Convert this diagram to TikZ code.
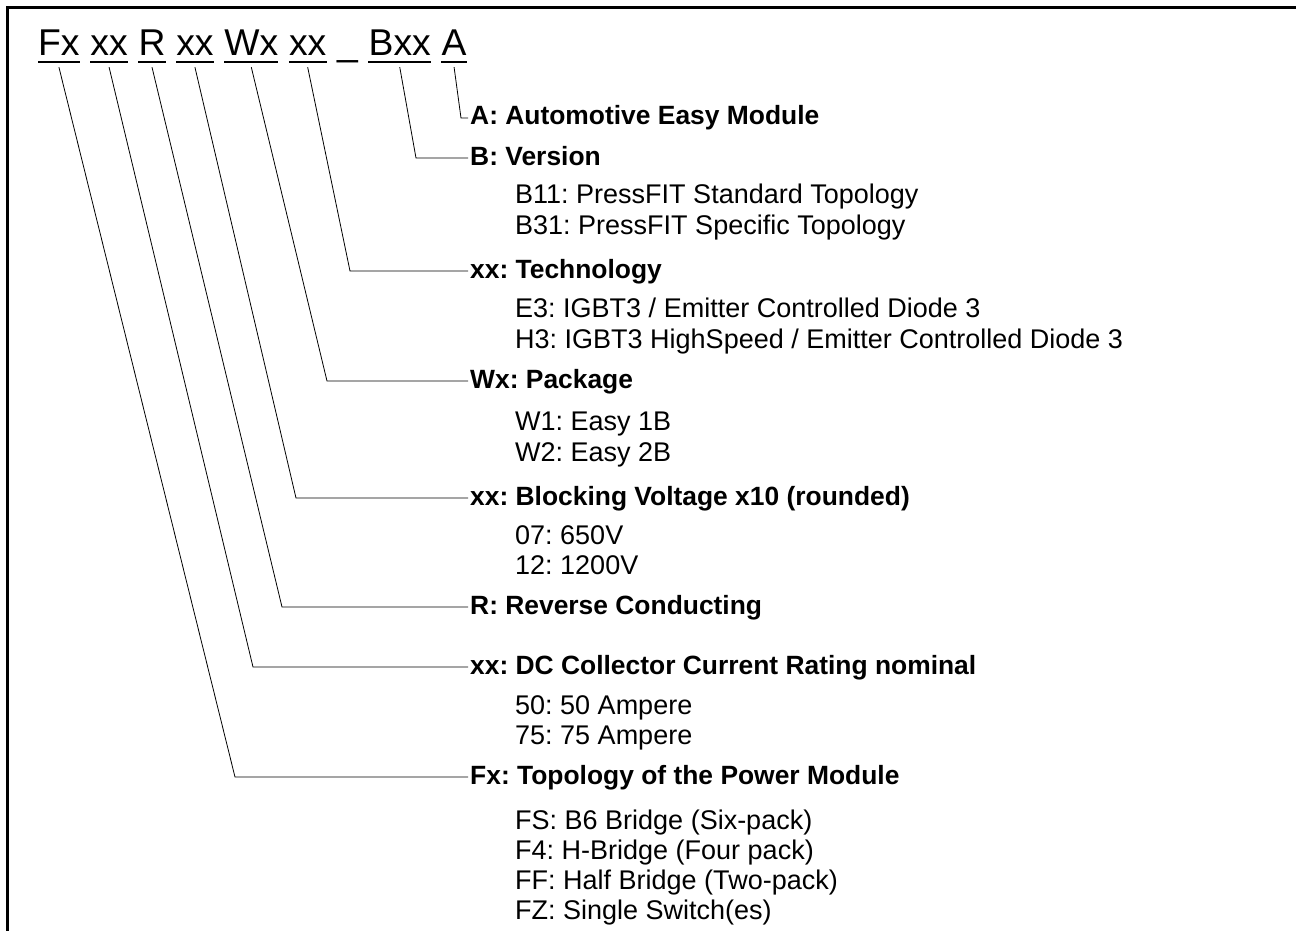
\documentclass[tikz,border=0pt]{standalone}
\usepackage{fontspec}
\setmainfont{Liberation Sans}
\usetikzlibrary{positioning, calc}
\frenchspacing

\begin{document}
\begin{tikzpicture}[
            x=1pt, y=-1pt,
            node distance=10.4pt,
            code/.style={inner sep=0pt, text height=27pt, text depth=0pt, font=\fontsize{37.3}{40}\selectfont},
            uline/.style={line width=1.9pt},
            head/.style={anchor=west, inner xsep=2pt, inner ysep=0pt, text height=14pt, text depth=0pt, font=\fontsize{26.4}{30}\selectfont\bfseries},
            item/.style={anchor=base west, inner sep=0pt, font=\fontsize{27}{30}\selectfont},
            leader/.style={line width=0.8pt},
            frame/.style={line width=3pt}
            ]

            \useasboundingbox (0,0) rectangle (1296,931);
            \draw[frame] (1296,8) -- (7,8) -- (7,931);

            % Type designation
            \node[code, anchor=base west] (fx) at (38,56) {Fx};
            \node[code, right=of fx] (xxa) {xx};
            \node[code, right=of xxa] (r) {R};
            \node[code, right=of r] (xxb) {xx};
            \node[code, right=of xxb] (wx) {Wx};
            \node[code, right=of wx] (xxc) {xx};
            \node[code, right=of xxc] (us) {\_};
            \node[code, right=of us] (bxx) {Bxx};
            \node[code, right=of bxx] (a) {A};

            \foreach \n in {fx, xxa, r, xxb, wx, xxc, bxx, a}
                \draw[uline] ([yshift=-5.5pt]\n.south west) -- ([yshift=-5.5pt]\n.south east);

            % Headings
            \node[head] (hA) at (468,118) {A: Automotive Easy Module};
            \node[head] (hB) at (468,158) {B: Version};
            \node[head] (hTech) at (468,271) {xx: Technology};
            \node[head] (hPkg) at (468,381) {Wx: Package};
            \node[head] (hVolt) at (468,498) {xx: Blocking Voltage x10 (rounded)};
            \node[head] (hR) at (468,607) {R: Reverse Conducting};
            \node[head] (hCur) at (468,667) {xx: DC Collector Current Rating nominal};
            \node[head] (hTop) at (468,777) {Fx: Topology of the Power Module};

            % Options
            \node[item] (b11) at (515,204) {B11: PressFIT Standard Topology};
            \node[item] (b31) at (515,234) {B31: PressFIT Specific Topology};
            \node[item] (e3) at (515,317) {E3: IGBT3 / Emitter Controlled Diode 3};
            \node[item] (h3) at (515,348) {H3: IGBT3 HighSpeed / Emitter Controlled Diode 3};
            \node[item] (w1) at (515,430) {W1: Easy 1B};
            \node[item] (w2) at (515,461) {W2: Easy 2B};
            \node[item] (v07) at (515,544) {07: 650V};
            \node[item] (v12) at (515,574) {12: 1200V};
            \node[item] (i50) at (515,714) {50: 50 Ampere};
            \node[item] (i75) at (515,744) {75: 75 Ampere};
            \node[item] (fs) at (515,829) {FS: B6 Bridge (Six-pack)};
            \node[item] (f4) at (515,859) {F4: H-Bridge (Four pack)};
            \node[item] (ff) at (515,889) {FF: Half Bridge (Two-pack)};
            \node[item] (fz) at (515,919) {FZ: Single Switch(es)};

            % Leaders
            \coordinate (cA) at (461,118);
            \coordinate (cB) at (416,158);
            \coordinate (cTech) at (350,271);
            \coordinate (cPkg) at (327,381);
            \coordinate (cVolt) at (296,498);
            \coordinate (cR) at (282,607);
            \coordinate (cCur) at (253,667);
            \coordinate (cTop) at (235,777);

            \draw[leader] ([yshift=-11pt]a.south) -- (cA) -- (hA);
            \draw[leader] ([yshift=-11pt]bxx.south) -- (cB) -- (hB);
            \draw[leader] ([yshift=-11pt]xxc.south) -- (cTech) -- (hTech);
            \draw[leader] ([yshift=-11pt]wx.south) -- (cPkg) -- (hPkg);
            \draw[leader] ([yshift=-11pt]xxb.south) -- (cVolt) -- (hVolt);
            \draw[leader] ([yshift=-11pt]r.south) -- (cR) -- (hR);
            \draw[leader] ([yshift=-11pt]xxa.south) -- (cCur) -- (hCur);
            \draw[leader] ([yshift=-11pt]fx.south) -- (cTop) -- (hTop);

        \end{tikzpicture}
\end{document}
